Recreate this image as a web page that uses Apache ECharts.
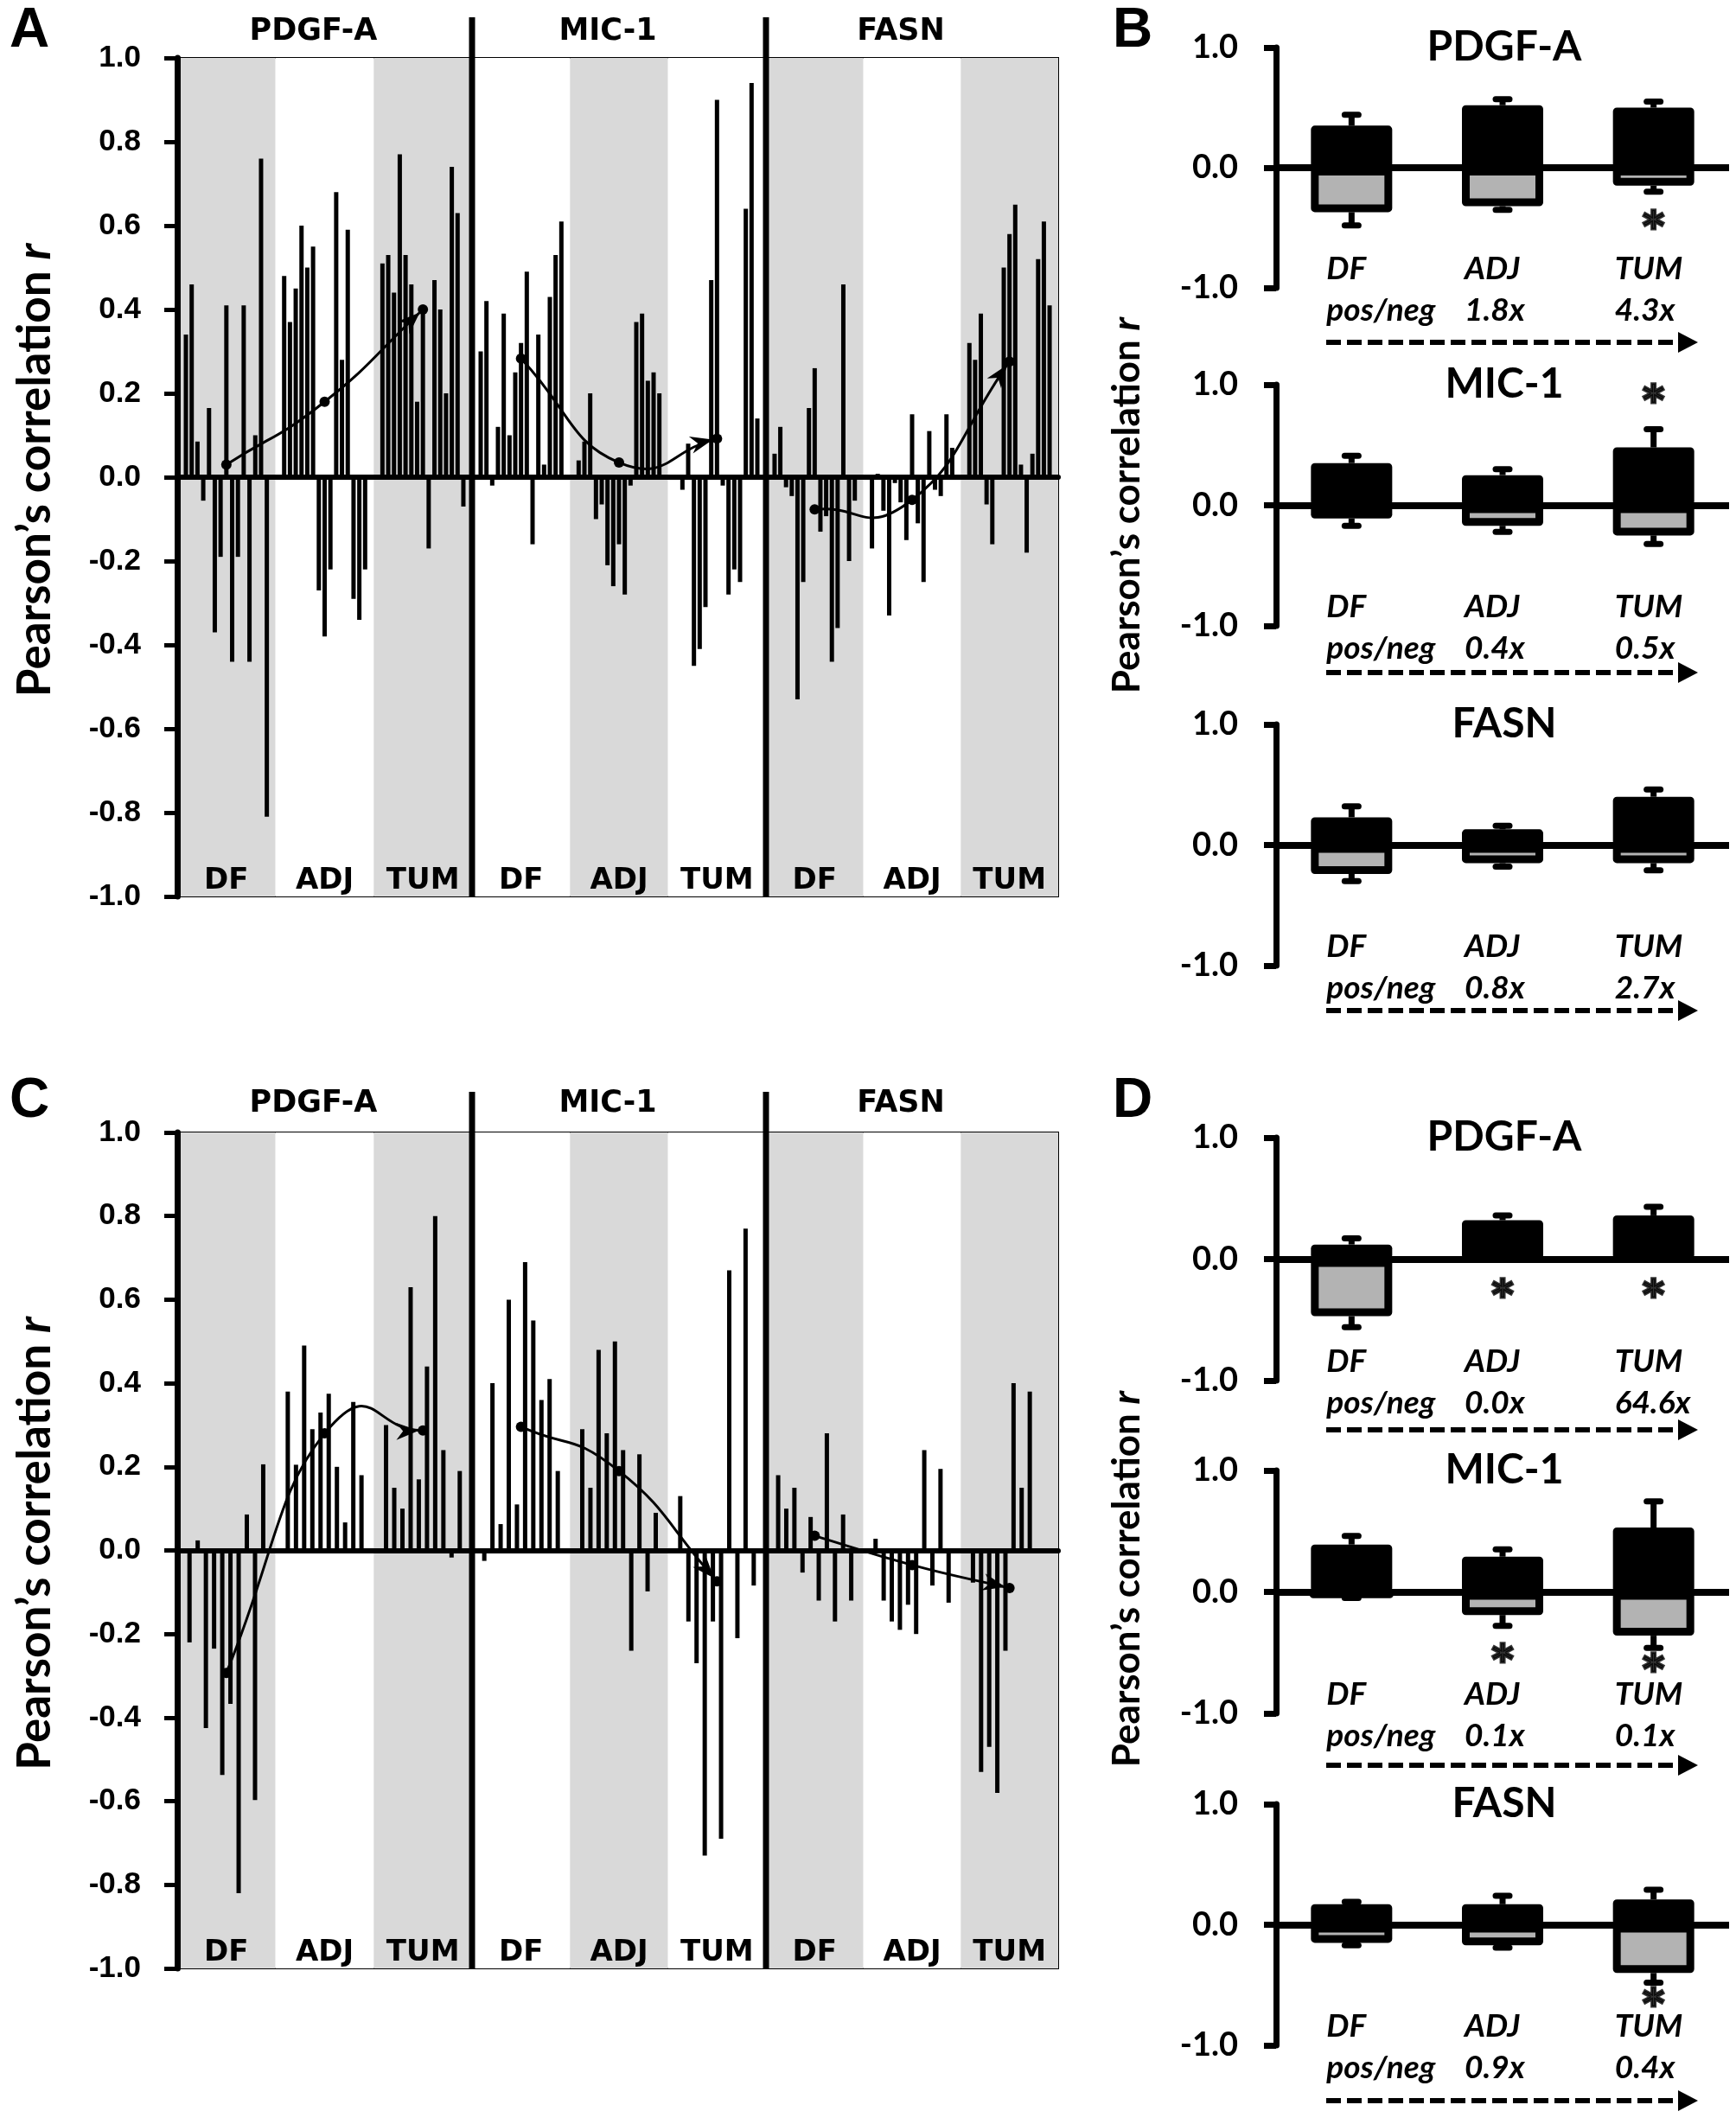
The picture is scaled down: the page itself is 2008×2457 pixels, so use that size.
<!DOCTYPE html>
<html><head><meta charset="utf-8">
<script src="https://cdn.jsdelivr.net/npm/echarts@6/dist/echarts.min.js"></script>
<style>html,body{margin:0;padding:0;background:#fff}#c{width:2008px;height:2457px}</style>
</head><body><div id="c"></div>
<script>
// ---------------- DATA ----------------
const BANDS = ['DF', 'ADJ', 'TUM'];
const GENES = ['PDGF-A', 'MIC-1', 'FASN'];

// Panel A: individual correlations per band
const A_PDGF_DF  = [0.34, 0.46, 0.085, -0.056, 0.165, -0.37, -0.19, 0.41, -0.44, -0.19, 0.41, -0.44, 0.10, 0.76, -0.81];
const A_PDGF_ADJ = [0.48, 0.37, 0.45, 0.60, 0.50, 0.55, -0.27, -0.38, -0.22, 0.68, 0.28, 0.59, -0.29, -0.34, -0.22];
const A_PDGF_TUM = [0.51, 0.53, 0.44, 0.77, 0.53, 0.46, 0.18, 0.39, -0.17, 0.47, 0.40, 0.20, 0.74, 0.63, -0.07];
const A_MIC_DF   = [0.30, 0.42, -0.02, 0.12, 0.39, 0.10, 0.25, 0.32, 0.49, -0.16, 0.34, 0.03, 0.43, 0.53, 0.61];
const A_MIC_ADJ  = [0.04, 0.085, 0.20, -0.10, -0.065, -0.21, -0.26, -0.16, -0.28, -0.02, 0.37, 0.39, 0.23, 0.25, 0.20];
const A_MIC_TUM  = [0.0, -0.03, 0.08, -0.45, -0.41, -0.31, 0.47, 0.90, -0.02, -0.28, -0.22, -0.25, 0.64, 0.94, 0.14];
const A_FASN_DF  = [0.056, 0.12, -0.024, -0.045, -0.53, -0.25, 0.165, 0.26, -0.13, -0.093, -0.44, -0.36, 0.46, -0.20, -0.056];
const A_FASN_ADJ = [-0.17, 0.008, -0.08, -0.33, -0.014, -0.06, -0.15, 0.15, -0.11, -0.25, 0.11, -0.03, -0.045, 0.15, 0.07];
const A_FASN_TUM = [0.32, 0.28, 0.39, -0.065, -0.16, 0.0, 0.50, 0.58, 0.65, 0.03, -0.18, 0.056, 0.52, 0.61, 0.41];
const A_TREND_PDGF = [0.03, 0.18, 0.40];
const A_TREND_MIC  = [0.283, 0.035, 0.092];
const A_TREND_FASN = [-0.077, -0.054, 0.276];

// Panel C
const C_PDGF_DF  = [-0.22, 0.024, -0.425, -0.235, -0.537, -0.367, -0.82, 0.086, -0.597, 0.206];
const C_PDGF_ADJ = [0.38, 0.205, 0.49, 0.29, 0.33, 0.375, 0.20, 0.067, 0.355, 0.18];
const C_PDGF_TUM = [0.30, 0.15, 0.10, 0.63, 0.17, 0.44, 0.80, 0.24, -0.017, 0.19];
const C_MIC_DF   = [-0.025, 0.40, 0.063, 0.60, 0.11, 0.69, 0.55, 0.36, 0.41, 0.19];
const C_MIC_ADJ  = [0.29, 0.15, 0.48, 0.28, 0.50, 0.24, -0.24, 0.23, -0.098, 0.09];
const C_MIC_TUM  = [0.13, -0.17, -0.27, -0.73, -0.17, -0.69, 0.67, -0.21, 0.77, -0.084];
const C_FASN_DF  = [0.18, 0.10, 0.15, -0.053, 0.08, -0.12, 0.28, -0.17, 0.086, -0.12];
const C_FASN_ADJ = [0.028, -0.12, -0.17, -0.19, -0.13, -0.20, 0.24, -0.084, 0.195, -0.125];
const C_FASN_TUM = [-0.077, -0.53, -0.47, -0.58, -0.24, 0.40, 0.15, 0.38];
const C_TREND_PDGF = [-0.293, 0.28, 0.287];
const C_TREND_MIC  = [0.296, 0.19, -0.074];
const C_TREND_FASN = [0.035, -0.035, -0.09];

// Panel B: mean positive / negative correlations with error
const B_PDGF_POS = [0.35, 0.52, 0.50],  B_PDGF_POS_ERR = [0.44, 0.57, 0.55];
const B_PDGF_NEG = [-0.37, -0.32, -0.15], B_PDGF_NEG_ERR = [-0.48, -0.35, -0.20];
const B_PDGF_RATIO = ['pos/neg', '1.8x', '4.3x'];
const B_PDGF_STAR = [null, null, -0.44];
const B_MIC_POS = [0.35, 0.25, 0.48],  B_MIC_POS_ERR = [0.41, 0.30, 0.63];
const B_MIC_NEG = [-0.11, -0.17, -0.25], B_MIC_NEG_ERR = [-0.17, -0.22, -0.32];
const B_MIC_RATIO = ['pos/neg', '0.4x', '0.5x'];
const B_MIC_STAR = [null, null, 0.92];
const B_FASN_POS = [0.23, 0.13, 0.40],  B_FASN_POS_ERR = [0.32, 0.16, 0.46];
const B_FASN_NEG = [-0.24, -0.15, -0.15], B_FASN_NEG_ERR = [-0.30, -0.18, -0.21];
const B_FASN_RATIO = ['pos/neg', '0.8x', '2.7x'];
const B_FASN_STAR = [null, null, null];

// Panel D
const D_PDGF_POS = [0.12, 0.32, 0.36],  D_PDGF_POS_ERR = [0.17, 0.36, 0.43];
const D_PDGF_NEG = [-0.47, null, null], D_PDGF_NEG_ERR = [-0.56, null, null];
const D_PDGF_RATIO = ['pos/neg', '0.0x', '64.6x'];
const D_PDGF_STAR = [null, -0.25, -0.25];
const D_MIC_POS = [0.39, 0.29, 0.53],  D_MIC_POS_ERR = [0.46, 0.35, 0.745];
const D_MIC_NEG = [-0.04, -0.19, -0.36], D_MIC_NEG_ERR = [-0.05, -0.28, -0.46];
const D_MIC_RATIO = ['pos/neg', '0.1x', '0.1x'];
const D_MIC_STAR = [null, -0.51, -0.59];
const D_FASN_POS = [0.17, 0.17, 0.21],  D_FASN_POS_ERR = [0.19, 0.24, 0.29];
const D_FASN_NEG = [-0.15, -0.17, -0.40], D_FASN_NEG_ERR = [-0.17, -0.19, -0.48];
const D_FASN_RATIO = ['pos/neg', '0.9x', '0.4x'];
const D_FASN_STAR = [null, null, -0.61];

// ---------------- LAYOUT ----------------
const GRAY = '#d9d9d9';
const F_ARIAL = 'Liberation Sans', F_VERD = 'DejaVu Sans', F_CAL = 'Lato';
const GX = [205, 546, 886, 1224];
const BD_L = 1476, BD_W = 524;

const panelsAC = [
  { top: 67, bottom: 1037, hdrY: 37, sepTop: 20, slots: 17, groups: [
    { gene: GENES[0], bands: [A_PDGF_DF, A_PDGF_ADJ, A_PDGF_TUM], trend: A_TREND_PDGF },
    { gene: GENES[1], bands: [A_MIC_DF, A_MIC_ADJ, A_MIC_TUM], trend: A_TREND_MIC },
    { gene: GENES[2], bands: [A_FASN_DF, A_FASN_ADJ, A_FASN_TUM], trend: A_TREND_FASN } ] },
  { top: 1310, bottom: 2277, hdrY: 1277, sepTop: 1263, slots: 12, groups: [
    { gene: GENES[0], bands: [C_PDGF_DF, C_PDGF_ADJ, C_PDGF_TUM], trend: C_TREND_PDGF },
    { gene: GENES[1], bands: [C_MIC_DF, C_MIC_ADJ, C_MIC_TUM], trend: C_TREND_MIC },
    { gene: GENES[2], bands: [C_FASN_DF, C_FASN_ADJ, C_FASN_TUM], trend: C_TREND_FASN } ] }
];
const panelsBD = [
  { rows: [[55, 333], [445, 724], [838, 1117]], arrowY: [396, 778, 1169], namePad: 0, subs: [
    { gene: GENES[0], pos: B_PDGF_POS, posErr: B_PDGF_POS_ERR, neg: B_PDGF_NEG, negErr: B_PDGF_NEG_ERR, ratio: B_PDGF_RATIO, star: B_PDGF_STAR },
    { gene: GENES[1], pos: B_MIC_POS, posErr: B_MIC_POS_ERR, neg: B_MIC_NEG, negErr: B_MIC_NEG_ERR, ratio: B_MIC_RATIO, star: B_MIC_STAR },
    { gene: GENES[2], pos: B_FASN_POS, posErr: B_FASN_POS_ERR, neg: B_FASN_NEG, negErr: B_FASN_NEG_ERR, ratio: B_FASN_RATIO, star: B_FASN_STAR } ] },
  { rows: [[1316, 1597], [1701, 1982], [2087, 2366]], arrowY: [1654, 2042, 2430], namePad: 30, subs: [
    { gene: GENES[0], pos: D_PDGF_POS, posErr: D_PDGF_POS_ERR, neg: D_PDGF_NEG, negErr: D_PDGF_NEG_ERR, ratio: D_PDGF_RATIO, star: D_PDGF_STAR },
    { gene: GENES[1], pos: D_MIC_POS, posErr: D_MIC_POS_ERR, neg: D_MIC_NEG, negErr: D_MIC_NEG_ERR, ratio: D_MIC_RATIO, star: D_MIC_STAR },
    { gene: GENES[2], pos: D_FASN_POS, posErr: D_FASN_POS_ERR, neg: D_FASN_NEG, negErr: D_FASN_NEG_ERR, ratio: D_FASN_RATIO, star: D_FASN_STAR } ] }
];

const grid = [], xAxis = [], yAxis = [], series = [], graphic = [];

function txt(text, x, y, font) {
  return { type: 'text', x: x, y: y, z: 20, silent: true,
    style: { text: text, fill: '#000', font: font, textAlign: 'center', textVerticalAlign: 'middle', align: 'center', verticalAlign: 'middle' } };
}

// smooth trend curve (Bezier through the three band means) with dots and arrowhead
function renderTrend(params, api) {
  const P = [0, 1, 2].map(i => api.coord([i, api.value(i + 1)]));
  const T = [
    [P[1][0] - P[0][0], P[1][1] - P[0][1]],
    [(P[2][0] - P[0][0]) / 2, (P[2][1] - P[0][1]) / 2],
    [P[2][0] - P[1][0], P[2][1] - P[1][1]]
  ];
  const k = 0.5;
  const children = [];
  for (let i = 0; i < 2; i++) {
    children.push({ type: 'bezierCurve', shape: {
      x1: P[i][0], y1: P[i][1], x2: P[i + 1][0], y2: P[i + 1][1],
      cpx1: P[i][0] + T[i][0] * k, cpy1: P[i][1] + T[i][1] * k,
      cpx2: P[i + 1][0] - T[i + 1][0] * k, cpy2: P[i + 1][1] - T[i + 1][1] * k },
      style: { stroke: '#000', lineWidth: 3, fill: null } });
  }
  P.forEach(p => children.push({ type: 'circle', shape: { cx: p[0], cy: p[1], r: 6 }, style: { fill: '#000' } }));
  const len = Math.hypot(T[2][0], T[2][1]) || 1;
  const ux = T[2][0] / len, uy = T[2][1] / len;
  const tipX = P[2][0] - ux * 5, tipY = P[2][1] - uy * 5;
  const bx = tipX - ux * 26, by = tipY - uy * 26;
  const mx = tipX - ux * 18, my = tipY - uy * 18;
  children.push({ type: 'polygon', shape: { points: [[tipX, tipY], [bx - uy * 10, by + ux * 10], [mx, my], [bx + uy * 10, by - ux * 10]] },
    style: { fill: '#000' } });
  return { type: 'group', children: children };
}

// ----- Panels A & C -----
panelsAC.forEach((P, pi) => {
  P.groups.forEach((G, gi) => {
    const gIdx = grid.length;
    grid.push({ left: GX[gi], top: P.top, width: GX[gi + 1] - GX[gi], height: P.bottom - P.top,
      show: true, borderColor: '#000', borderWidth: 2, backgroundColor: 'rgba(0,0,0,0)' });
    const cats = [], vals = [];
    G.bands.forEach((arr, b) => {
      for (let s = 0; s < P.slots; s++) {
        cats.push(b + '_' + s);
        const k = s - 1;
        vals.push(k >= 0 && k < arr.length ? arr[k] : null);
      }
    });
    const sx = xAxis.length;
    xAxis.push({ type: 'category', gridIndex: gIdx, data: cats, position: 'top',
      axisLine: { show: true, onZero: true, lineStyle: { color: '#000', width: 6 } },
      axisTick: { show: false }, axisLabel: { show: false }, splitLine: { show: false }, z: 6 });
    const bx = xAxis.length;
    xAxis.push({ type: 'category', gridIndex: gIdx, data: BANDS, position: 'bottom',
      axisLine: { show: false, onZero: false }, axisTick: { show: false }, splitLine: { show: false },
      splitArea: { show: true, areaStyle: { color: gi % 2 === 0 ? [GRAY, '#ffffff'] : ['#ffffff', GRAY] } },
      axisLabel: { show: true, inside: true, margin: 1, interval: 0, color: '#000',
        fontFamily: F_VERD, fontWeight: 'bold', fontSize: 34 } });
    const yi = yAxis.length;
    const first = gi === 0;
    yAxis.push({ type: 'value', gridIndex: gIdx, min: -1, max: 1, interval: 0.2, show: first,
      axisLine: { show: true, lineStyle: { color: '#000', width: 7 } },
      axisTick: { show: true, inside: false, length: 15, lineStyle: { color: '#000', width: 5 } },
      axisLabel: { show: true, margin: 42, color: '#000', fontFamily: F_ARIAL, fontWeight: 'bold', fontSize: 35,
        formatter: v => v.toFixed(1) },
      splitLine: { show: false },
      name: first ? 'Pearson\u2019s correlation {i|r}' : '', nameLocation: 'middle', nameRotate: 90, nameGap: 138,
      nameTextStyle: { color: '#000', fontFamily: F_CAL, fontWeight: 'bold', fontSize: 53, padding: [0, 0, 0, 16],
        rich: { i: { color: '#000', fontFamily: F_CAL, fontWeight: 'bold', fontStyle: 'italic', fontSize: 53 } } } });
    series.push({ type: 'bar', xAxisIndex: sx, yAxisIndex: yi, data: vals, barWidth: 5,
      itemStyle: { color: '#000' }, silent: true, z: 3 });
    series.push({ type: 'custom', xAxisIndex: bx, yAxisIndex: yi, silent: true, z: 8,
      data: [[0, G.trend[0], G.trend[1], G.trend[2]]], encode: { x: 0, y: [1, 2, 3] },
      renderItem: renderTrend });
    graphic.push(txt(G.gene, (GX[gi] + GX[gi + 1]) / 2 - 13, P.hdrY, 'bold 35px "' + F_VERD + '"'));
    if (gi > 0) {
      graphic.push({ type: 'rect', z: 20, silent: true,
        shape: { x: GX[gi] - 3.5, y: P.sepTop, width: 7, height: P.bottom - P.sepTop }, style: { fill: '#000' } });
    }
  });
});

// ----- Panels B & D -----
const LBL_W = [58, 88, 90];
panelsBD.forEach((P, pi) => {
  P.subs.forEach((S, si) => {
    const top = P.rows[si][0], bottom = P.rows[si][1];
    const gIdx = grid.length;
    grid.push({ left: BD_L, top: top, width: BD_W, height: bottom - top });
    const rich = {};
    [0, 1, 2].forEach(i => {
      rich['c' + i] = { fontFamily: F_CAL, fontStyle: 'italic', fontWeight: 'bold', fontSize: 37, color: '#000',
        lineHeight: 48, width: LBL_W[i], align: 'left' };
    });
    const xi = xAxis.length;
    xAxis.push({ type: 'category', gridIndex: gIdx, data: BANDS, position: 'bottom',
      axisLine: { show: false, onZero: false }, axisTick: { show: false }, splitLine: { show: false },
      axisLabel: { show: true, interval: 0, margin: -46,
        formatter: (v, i) => '{c' + i + '|' + v + '}\n{c' + i + '|' + S.ratio[i] + '}', rich: rich } });
    const yi = yAxis.length;
    yAxis.push({ type: 'value', gridIndex: gIdx, min: -1, max: 1, interval: 1,
      axisLine: { show: true, lineStyle: { color: '#000', width: 7 } },
      axisTick: { show: true, length: 14, lineStyle: { color: '#000', width: 7 } },
      axisLabel: { margin: 44, color: '#000', fontFamily: F_CAL, fontWeight: 'bold', fontSize: 38,
        formatter: v => v.toFixed(1) },
      splitLine: { show: false },
      name: si === 1 ? 'Pearson\u2019s correlation {i|r}' : '', nameLocation: 'middle', nameRotate: 90, nameGap: 150,
      nameTextStyle: { color: '#000', fontFamily: F_CAL, fontWeight: 'bold', fontSize: 44, padding: [0, 0, 0, P.namePad],
        rich: { i: { color: '#000', fontFamily: F_CAL, fontWeight: 'bold', fontStyle: 'italic', fontSize: 44 } } } });
    series.push({ type: 'bar', xAxisIndex: xi, yAxisIndex: yi, data: S.pos, barWidth: 94, barGap: '-100%',
      itemStyle: { color: '#000', borderColor: '#000', borderWidth: 9, borderJoin: 'round' }, silent: true, z: 3,
      markLine: { silent: true, symbol: ['none', 'none'], label: { show: false }, animation: false,
        lineStyle: { color: '#000', width: 8, type: 'solid' }, data: [{ yAxis: 0 }] } });
    series.push({ type: 'bar', xAxisIndex: xi, yAxisIndex: yi, data: S.neg, barWidth: 94, barGap: '-100%',
      itemStyle: { color: '#b3b3b3', borderColor: '#000', borderWidth: 9, borderJoin: 'round' }, silent: true, z: 3 });
    const err = [];
    S.pos.forEach((v, i) => { if (v != null && S.posErr[i] != null) err.push([i, v, S.posErr[i]]); });
    S.neg.forEach((v, i) => { if (v != null && S.negErr[i] != null) err.push([i, v, S.negErr[i]]); });
    series.push({ type: 'custom', xAxisIndex: xi, yAxisIndex: yi, data: err, silent: true, z: 2,
      renderItem: (params, api) => {
        const p0 = api.coord([api.value(0), api.value(1)]);
        const p1 = api.coord([api.value(0), api.value(2)]);
        return { type: 'group', children: [
          { type: 'line', shape: { x1: p0[0], y1: p0[1], x2: p1[0], y2: p1[1] }, style: { stroke: '#000', lineWidth: 7 } },
          { type: 'line', shape: { x1: p1[0] - 8, y1: p1[1], x2: p1[0] + 8, y2: p1[1] }, style: { stroke: '#000', lineWidth: 7, lineCap: 'round' } }
        ] };
      } });
    const stars = [];
    S.star.forEach((v, i) => { if (v != null) stars.push([i, v]); });
    series.push({ type: 'scatter', xAxisIndex: xi, yAxisIndex: yi, data: stars, symbolSize: 1,
      itemStyle: { color: 'rgba(0,0,0,0)' }, silent: true, z: 10,
      label: { show: true, position: 'inside', formatter: '*', color: '#000', fontFamily: F_VERD,
        fontWeight: 'bold', fontSize: 48, textBorderColor: '#000', textBorderWidth: 3, offset: [0, 10] } });
    graphic.push(txt(S.gene, 1740, top, 'bold 48px "' + F_CAL + '"'));
    const ay = P.arrowY[si];
    graphic.push({ type: 'line', z: 20, silent: true, shape: { x1: 1534, y1: ay, x2: 1944, y2: ay },
      style: { stroke: '#000', lineWidth: 6, lineDash: [17, 7] } });
    graphic.push({ type: 'polygon', z: 20, silent: true,
      shape: { points: [[1941, ay - 12], [1964, ay], [1941, ay + 12]] }, style: { fill: '#000' } });
  });
});

// panel letters
graphic.push(txt('A', 34, 36, 'bold 64px "' + F_ARIAL + '"'));
graphic.push(txt('B', 1310, 36, 'bold 64px "' + F_ARIAL + '"'));
graphic.push(txt('C', 34, 1274, 'bold 64px "' + F_ARIAL + '"'));
graphic.push(txt('D', 1310, 1274, 'bold 64px "' + F_ARIAL + '"'));

const chart = echarts.init(document.getElementById('c'), null, { renderer: 'canvas' });
chart.setOption({
  animation: false,
  backgroundColor: '#ffffff',
  grid: grid, xAxis: xAxis, yAxis: yAxis, series: series,
  graphic: { elements: graphic }
});
</script>
</body></html>
